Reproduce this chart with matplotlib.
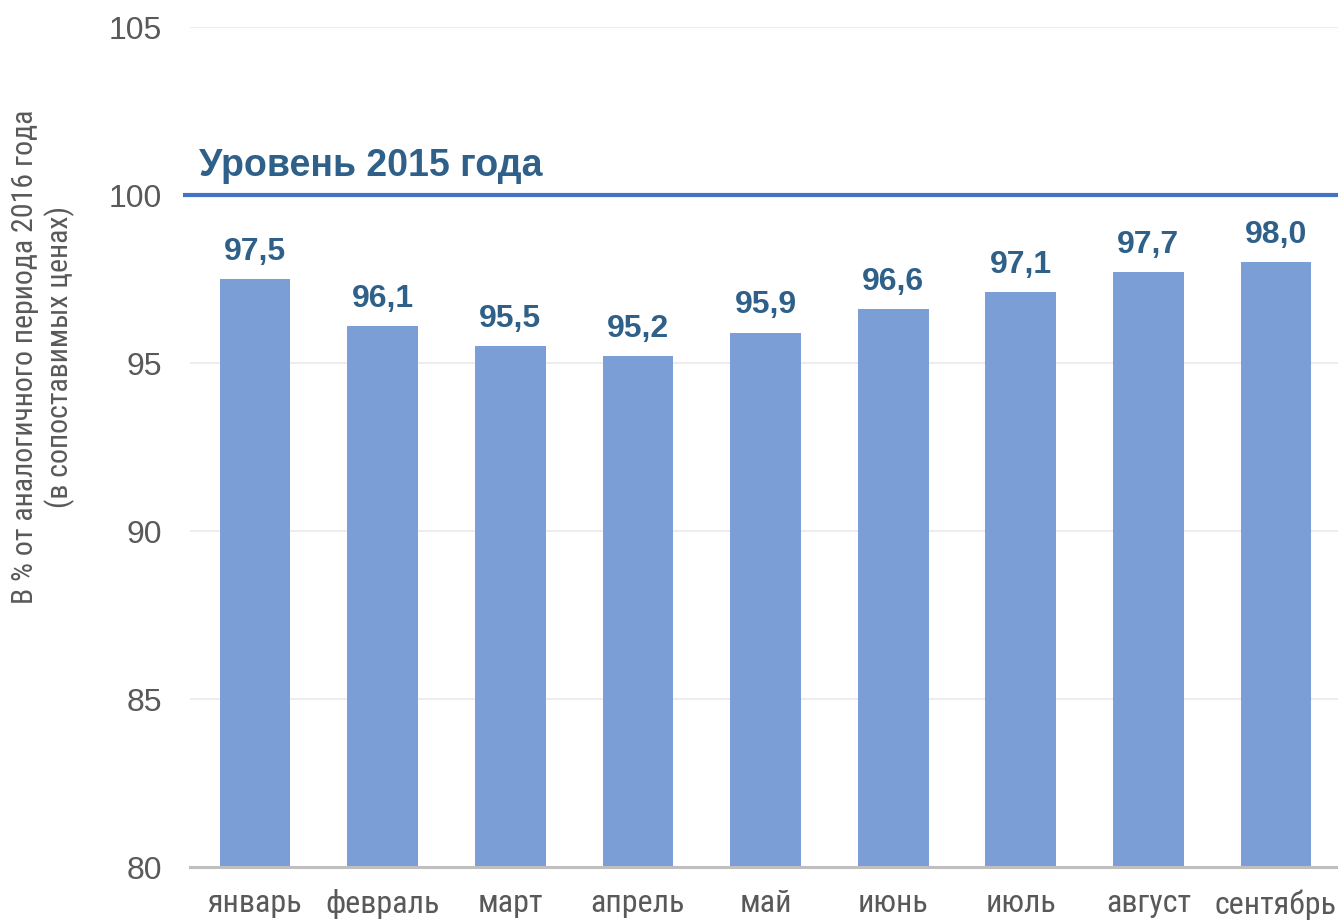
import matplotlib
matplotlib.use("Agg")
import matplotlib.pyplot as plt
from matplotlib import font_manager

months = ["январь", "февраль", "март", "апрель", "май", "июнь", "июль", "август", "сентябрь"]
values = [97.5, 96.1, 95.5, 95.2, 95.9, 96.6, 97.1, 97.7, 98.0]
level_2015 = 100
level_label = "Уровень 2015 года"
y_ticks = [80, 85, 90, 95, 100, 105]
y_label = "В % от аналогичного периода 2016 года\n(в сопоставимых ценах)"


def find_narrow():
    # look for a condensed sans face, Arial Narrow look-alikes first
    files = [f.fname for f in font_manager.fontManager.ttflist]
    extra = font_manager.findSystemFonts()
    files = list(dict.fromkeys(files + extra))
    for key in ["LiberationSansNarrow-Regular", "RobotoCondensed-Regular",
                "DejaVuSansCondensed.ttf", "OpenSans_Condensed-Regular",
                "OpenSansCondensed"]:
        for f in files:
            if key.lower() in f.lower():
                return f
    return None


narrow_file = find_narrow()
if narrow_file:
    month_font = font_manager.FontProperties(fname=narrow_file, size=23)
    ylab_font = font_manager.FontProperties(fname=narrow_file, size=21.5)
else:
    month_font = font_manager.FontProperties(family="Liberation Sans", size=20)
    ylab_font = font_manager.FontProperties(family="Liberation Sans", size=18)

plt.rcParams["font.family"] = ["Liberation Sans", "DejaVu Sans"]

grey = "#595959"
bar_color = "#7C9ED6"
label_color = "#2E6089"
line_color = "#4472C4"

fig = plt.figure(figsize=(13.38, 9.23), dpi=100)
ax = fig.add_axes([190 / 1338, 56 / 923, 1 - 190 / 1338, 840 / 923])

x = list(range(len(months)))
ax.bar(x, values, width=0.555, color=bar_color, zorder=2)

for xi, v in zip(x, values):
    ax.annotate(f"{v:.1f}".replace(".", ","), (xi, v), xytext=(0, 9),
                textcoords="offset points", ha="center", va="bottom",
                fontsize=23, fontweight="bold", color=label_color)

# reference line sticks out a little to the left of the plot area
ax.plot([-0.006, 1], [level_2015, level_2015], transform=ax.get_yaxis_transform(),
        color=line_color, lw=3, zorder=3, clip_on=False, solid_capstyle="butt")
ax.text(0.008, 100.33, level_label, transform=ax.get_yaxis_transform(),
        fontsize=27, fontweight="bold", color=label_color, ha="left", va="bottom")

ax.set_ylim(80, 105)
ax.set_xlim(-0.51, 8.486)
ax.set_yticks(y_ticks)
ax.set_xticks(x)
ax.set_xticklabels(months, color=grey)
for lab in ax.get_xticklabels():
    lab.set_fontproperties(month_font)
ax.tick_params(axis="x", length=0, pad=16)
ax.tick_params(axis="y", length=0, pad=20, labelsize=23, labelcolor=grey)

ax.grid(axis="y", color="#EDEDED", lw=1.5, zorder=0)
ax.set_axisbelow(True)
for s in ["top", "right", "left"]:
    ax.spines[s].set_visible(False)
ax.spines["bottom"].set_color("#BFBFBF")
ax.spines["bottom"].set_linewidth(2.2)
ax.spines["bottom"].set_zorder(4)

fig.text(43 / 1338, 1 - 357 / 923, y_label, rotation=90, ha="center", va="center",
         fontproperties=ylab_font, color=grey, multialignment="center")

fig.savefig("out.png", dpi=100)
